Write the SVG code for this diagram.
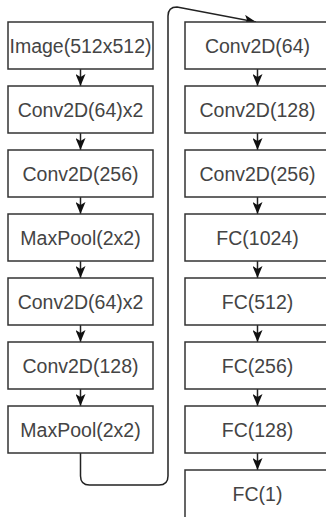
<svg xmlns="http://www.w3.org/2000/svg" width="326" height="517" viewBox="0 0 326 517">
<style>
.box{fill:#fff;stroke:#333;stroke-width:1.5}
.lbl{font-family:"Liberation Sans",Arial,sans-serif;font-size:19.5px;fill:#444;text-anchor:middle;dominant-baseline:central}
.edge{fill:none;stroke:#222;stroke-width:1.5}
</style>
<defs>
<marker id="arr" viewBox="0 0 12 10" refX="12" refY="5" markerWidth="12" markerHeight="10" markerUnits="userSpaceOnUse" orient="auto">
<path d="M0,0 L12,5 L0,10 L3,5 Z" fill="#111"/>
</marker>
</defs>
<rect width="326" height="517" fill="#fff"/>
<g id="connectors">
<path class="edge" d="M80.5,69 V86" marker-end="url(#arr)"/>
<path class="edge" d="M80.5,133 V150" marker-end="url(#arr)"/>
<path class="edge" d="M80.5,197 V214" marker-end="url(#arr)"/>
<path class="edge" d="M80.5,261 V278" marker-end="url(#arr)"/>
<path class="edge" d="M80.5,325 V342" marker-end="url(#arr)"/>
<path class="edge" d="M80.5,389 V406" marker-end="url(#arr)"/>
<path class="edge" d="M257.5,69 V86" marker-end="url(#arr)"/>
<path class="edge" d="M257.5,133 V150" marker-end="url(#arr)"/>
<path class="edge" d="M257.5,197 V214" marker-end="url(#arr)"/>
<path class="edge" d="M257.5,261 V278" marker-end="url(#arr)"/>
<path class="edge" d="M257.5,325 V342" marker-end="url(#arr)"/>
<path class="edge" d="M257.5,389 V406" marker-end="url(#arr)"/>
<path class="edge" d="M257.5,453 V470" marker-end="url(#arr)"/>
<path class="edge" d="M80.5,453 V476 Q80.5,485 89.5,485 H159 Q168,485 168,476 V16 Q168,7 177,7 L256,22" marker-end="url(#arr)"/>
</g>
<g id="image"><rect class="box" x="8" y="22" width="145" height="47"/><text class="lbl" x="80.5" y="45.5">Image(512x512)</text></g>
<g id="conv64x2a"><rect class="box" x="8" y="86" width="145" height="47"/><text class="lbl" x="80.5" y="109.5">Conv2D(64)x2</text></g>
<g id="conv256a"><rect class="box" x="8" y="150" width="145" height="47"/><text class="lbl" x="80.5" y="173.5">Conv2D(256)</text></g>
<g id="maxpool1"><rect class="box" x="8" y="214" width="145" height="47"/><text class="lbl" x="80.5" y="237.5">MaxPool(2x2)</text></g>
<g id="conv64x2b"><rect class="box" x="8" y="278" width="145" height="47"/><text class="lbl" x="80.5" y="301.5">Conv2D(64)x2</text></g>
<g id="conv128a"><rect class="box" x="8" y="342" width="145" height="47"/><text class="lbl" x="80.5" y="365.5">Conv2D(128)</text></g>
<g id="maxpool2"><rect class="box" x="8" y="406" width="145" height="47"/><text class="lbl" x="80.5" y="429.5">MaxPool(2x2)</text></g>
<g id="conv64"><rect class="box" x="185" y="22" width="145" height="47"/><text class="lbl" x="257.5" y="45.5">Conv2D(64)</text></g>
<g id="conv128b"><rect class="box" x="185" y="86" width="145" height="47"/><text class="lbl" x="257.5" y="109.5">Conv2D(128)</text></g>
<g id="conv256b"><rect class="box" x="185" y="150" width="145" height="47"/><text class="lbl" x="257.5" y="173.5">Conv2D(256)</text></g>
<g id="fc1024"><rect class="box" x="185" y="214" width="145" height="47"/><text class="lbl" x="257.5" y="237.5">FC(1024)</text></g>
<g id="fc512"><rect class="box" x="185" y="278" width="145" height="47"/><text class="lbl" x="257.5" y="301.5">FC(512)</text></g>
<g id="fc256"><rect class="box" x="185" y="342" width="145" height="47"/><text class="lbl" x="257.5" y="365.5">FC(256)</text></g>
<g id="fc128"><rect class="box" x="185" y="406" width="145" height="47"/><text class="lbl" x="257.5" y="429.5">FC(128)</text></g>
<g id="fc1"><rect class="box" x="185" y="470" width="145" height="50"/><text class="lbl" x="257.5" y="493.5">FC(1)</text></g>
</svg>
